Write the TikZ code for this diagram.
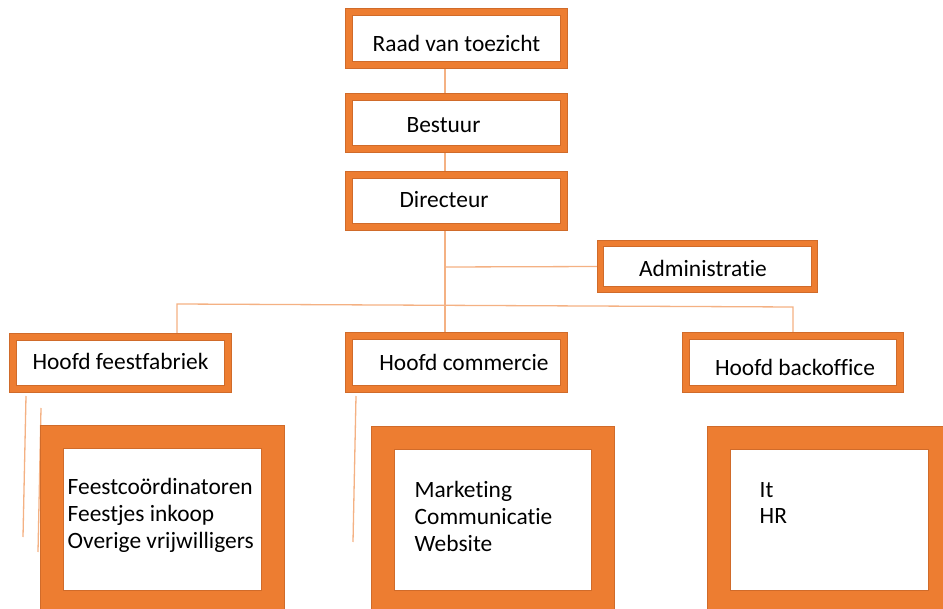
\documentclass[tikz,border=0pt]{standalone}
\usepackage{fontspec}
\setmainfont{Carlito}[Ligatures=NoCommon]
\usetikzlibrary{backgrounds}
\definecolor{frameor}{HTML}{ED7D31}
\definecolor{edgeor}{HTML}{D06B2A}
\definecolor{lineor}{HTML}{F4B183}
\tikzset{
  smallbox/.style={draw=edgeor, line width=0.7pt, double=frameor, double distance=6.6pt,
    fill=white, inner sep=0pt, outer sep=0pt, minimum width=#1, minimum height=53pt},
  bigbox/.style={draw=edgeor, line width=0.7pt, double=frameor, double distance=22.6pt,
    fill=white, inner sep=0pt, outer sep=0pt, minimum width=221pt, minimum height=164pt},
  txt/.style={inner sep=0pt, anchor=base, font=\fontsize{23.4}{27}\selectfont},
  ltxt/.style={inner sep=0pt, anchor=base west, align=left, font=\fontsize{23.4}{26.8}\selectfont}, 
  conn/.style={draw=lineor, line width=1.3pt}
}
\begin{document}
\begin{tikzpicture}[x=1pt,y=-1pt]
\useasboundingbox (0,0) rectangle (943,609);
\clip (0,0) rectangle (943,609);
% boxes
\node[smallbox=215pt] (raad) at (456.5,38.5) {};
\node[smallbox=215pt, minimum height=52pt] (bestuur) at (456.5,123) {};
\node[smallbox=215pt, minimum height=52pt] (directeur) at (456.5,201) {};
\node[smallbox=214pt, minimum height=46pt, double distance=5.6pt] (admin) at (707.5,266.5) {};
\node[smallbox=215pt, minimum height=52pt] (feest) at (120.5,363) {};
\node[smallbox=215pt] (commercie) at (456.5,362.5) {};
\node[smallbox=214pt] (backoffice) at (793,362.5) {};
\node[bigbox, minimum height=165pt] (bigL) at (162.5,519.5) {};
\node[bigbox, minimum width=220pt] (bigM) at (493,520) {};
\node[bigbox] (bigR) at (829.5,520) {};
% texts
\node[txt] (traad) at (456.5,52) {Raad van toezicht};
\node[txt] (tbestuur) at (443.5,133) {Bestuur};
\node[txt] (tdirecteur) at (444,208) {Directeur};
\node[txt] (tadmin) at (703,277) {Administratie};
\node[txt] (tfeest) at (120.5,370) {Hoofd feestfabriek};
\node[txt] (tcommercie) at (464,371) {Hoofd commercie};
\node[txt] (tbackoffice) at (795,376) {Hoofd backoffice};
\node[ltxt] (tbigL) at (67.5,548) {Feestcoördinatoren\\Feestjes inkoop\\Overige vrijwilligers};
\node[ltxt] (tbigM) at (414.5,551) {Marketing\\Communicatie\\Website};
\node[ltxt] (tbigR) at (759.5,524) {It\\HR};
% free coordinates
\coordinate (trunk) at (445,0);
\coordinate (busL) at (177,304);
\coordinate (busR) at (793,307);
\coordinate (fork) at (445,267);
\coordinate (s1a) at (26,396);
\coordinate (s1b) at (23,537);
\coordinate (s2a) at (41,408);
\coordinate (s2b) at (38,552);
\coordinate (s3a) at (356,396);
\coordinate (s3b) at (353,542);
% connectors
\begin{scope}[on background layer]
\draw[conn] (trunk |- raad.south) -- (trunk |- bestuur.north);
\draw[conn] (trunk |- bestuur.south) -- (trunk |- directeur.north);
\draw[conn] (trunk |- directeur.south) -- (trunk |- commercie.north);
\draw[conn] (fork) -- (admin.west);
\draw[conn] (busL |- feest.north) -- (busL) -- (busR) -- (busR |- backoffice.north);
\draw[conn] (s1a) -- (s1b);
\draw[conn] (s2a) -- (s2b);
\draw[conn] (s3a) -- (s3b);
\end{scope}
\end{tikzpicture}
\end{document}
